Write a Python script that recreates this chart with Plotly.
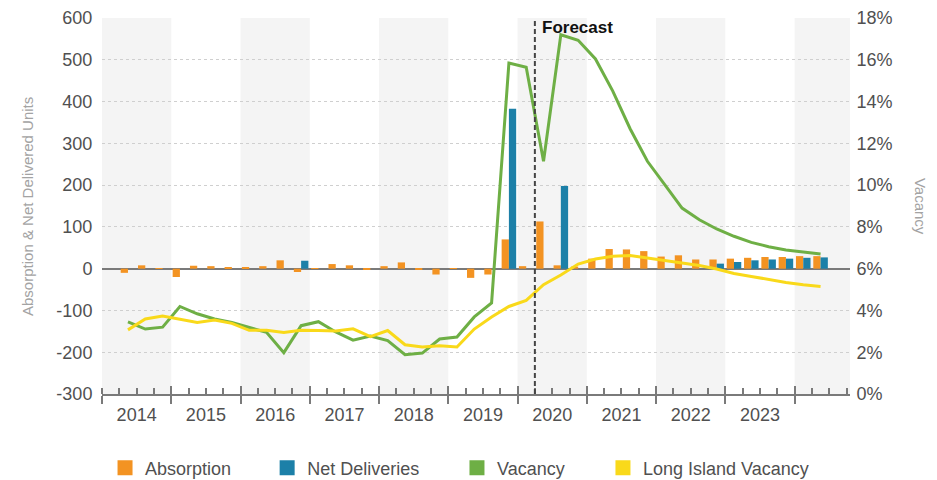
import plotly.graph_objects as go

# ---------------- data ----------------
quarters = [
    "2014 Q2", "2014 Q3", "2014 Q4",
    "2015 Q1", "2015 Q2", "2015 Q3", "2015 Q4",
    "2016 Q1", "2016 Q2", "2016 Q3", "2016 Q4",
    "2017 Q1", "2017 Q2", "2017 Q3", "2017 Q4",
    "2018 Q1", "2018 Q2", "2018 Q3", "2018 Q4",
    "2019 Q1", "2019 Q2", "2019 Q3", "2019 Q4",
    "2020 Q1", "2020 Q2", "2020 Q3", "2020 Q4",
    "2021 Q1", "2021 Q2", "2021 Q3", "2021 Q4",
    "2022 Q1", "2022 Q2", "2022 Q3", "2022 Q4",
    "2023 Q1", "2023 Q2", "2023 Q3", "2023 Q4",
    "2024 Q1", "2024 Q2",
]

absorption = [
    -10, 8, 1,
    -20, 7, 6, 4,
    4, 6, 20, -8,
    1, 11, 8, -2,
    6, 15, -1, -14,
    1, -22, -14, 70,
    6, 113, 8, 5,
    24, 47, 46, 42,
    29, 32, 22, 22,
    24, 26, 28, 28,
    30, 30,
]

net_deliveries = [
    0, 0, 0,
    0, 0, 0, 0,
    0, 0, 0, 19,
    0, 0, 0, 0,
    0, 0, 0, 0,
    0, 0, 0, 383,
    0, 0, 198, 0,
    0, 0, 0, 0,
    0, 0, 0, 12,
    16, 20, 22, 24,
    26, 27,
]

vacancy = [
    3.45, 3.11, 3.20,
    4.19, 3.84, 3.59, 3.42,
    3.18, 2.95, 1.98, 3.27,
    3.46, 2.97, 2.58, 2.78,
    2.56, 1.88, 1.96, 2.63,
    2.73, 3.69, 4.36, 15.84,
    15.64, 11.14, 17.20, 16.93,
    16.04, 14.50, 12.70, 11.14,
    10.02, 8.90, 8.34, 7.90,
    7.55, 7.26, 7.05, 6.89,
    6.80, 6.70,
]

li_vacancy = [
    3.07, 3.59, 3.73,
    3.56, 3.42, 3.54, 3.38,
    3.05, 3.05, 2.95, 3.05,
    3.04, 3.02, 3.12, 2.75,
    3.04, 2.36, 2.25, 2.31,
    2.25, 3.11, 3.69, 4.19,
    4.48, 5.23, 5.70, 6.22,
    6.46, 6.59, 6.63, 6.51,
    6.40, 6.30, 6.15, 5.98,
    5.77, 5.63, 5.47, 5.34,
    5.23, 5.15,
]

year_labels = ["2014", "2015", "2016", "2017", "2018",
               "2019", "2020", "2021", "2022", "2023"]
units_ticks = [600, 500, 400, 300, 200, 100, 0, -100, -200, -300]
units_tick_labels = ["600", "500", "400", "300", "200", "100", "0",
                     "-100", "-200", "-300"]
shaded_years = [2014, 2016, 2018, 2020, 2022, 2024]
forecast_start = "2020 Q2"

series_names = ["Absorption", "Net Deliveries", "Vacancy", "Long Island Vacancy"]

# ---------------- styling ----------------
ORANGE = "#F39322"
BLUE = "#1C80A8"
GREEN = "#6EAF45"
YELLOW = "#F9D91A"
AXIS_GRAY = "#7a7a7a"
TEXT_GRAY = "#505050"
FONT = "Liberation Sans, Arial, sans-serif"
TICK_SIZE = 18

X_RANGE = [2014.0, 2024.8]


def q_center(label):
    y, q = label.split(" Q")
    return int(y) + (int(q) - 0.5) / 4.0


def q_start(label):
    y, q = label.split(" Q")
    return int(y) + (int(q) - 1) / 4.0


xq = [q_center(q) for q in quarters]
label_pos = [int(y) + 0.5 for y in year_labels]

fig = go.Figure()

fig.add_trace(go.Bar(x=xq, y=absorption, name="Absorption", marker_color=ORANGE,
                     marker_line_width=0, width=0.105, offset=-0.105,
                     showlegend=False))
fig.add_trace(go.Bar(x=xq, y=net_deliveries, name="Net Deliveries", marker_color=BLUE,
                     marker_line_width=0, width=0.105, offset=0.0,
                     showlegend=False))
fig.add_trace(go.Scatter(x=xq, y=vacancy, name="Vacancy", yaxis="y2", mode="lines",
                         line=dict(color=GREEN, width=3), showlegend=False))
fig.add_trace(go.Scatter(x=xq, y=li_vacancy, name="Long Island Vacancy", yaxis="y2",
                         mode="lines", line=dict(color=YELLOW, width=3),
                         showlegend=False))

# legend entries (square swatches), each in its own legend box
legend_ids = ["legend", "legend2", "legend3", "legend4"]
legend_cols = [ORANGE, BLUE, GREEN, YELLOW]
legend_axes = ["x2", "x2", "x3", "x3"]
for nm, col, lg, ax in zip(series_names, legend_cols, legend_ids, legend_axes):
    fig.add_trace(go.Scatter(x=[None], y=[None], name=nm, mode="markers",
                             xaxis=ax, yaxis="y",
                             marker=dict(symbol="square", size=15, color=col),
                             legend=lg, showlegend=True, hoverinfo="skip"))

# shaded alternate years
for yr in shaded_years:
    fig.add_shape(type="rect", xref="x", yref="paper",
                  x0=yr, x1=min(yr + 1, X_RANGE[1]), y0=0, y1=1,
                  fillcolor="#f4f4f4", line_width=0, layer="below")

# forecast divider
fx = q_start(forecast_start)
fig.add_shape(type="line", xref="x", yref="paper", x0=fx, x1=fx, y0=0, y1=1,
              line=dict(color="#444444", width=2, dash="5px,3px"), layer="above")
fig.add_annotation(x=fx, xref="x", y=0.975, yref="paper", text="<b>Forecast</b>",
                   showarrow=False, xanchor="left", yanchor="middle", xshift=5,
                   font=dict(size=17, color="#111111", family=FONT))

# axis titles
fig.add_annotation(x=-0.1003, xref="paper", y=0.5, yref="paper",
                   text="Absorption & Net Delivered Units", textangle=-90,
                   showarrow=False, xanchor="center", yanchor="middle",
                   font=dict(size=15, color="#a3a3a3", family=FONT))
fig.add_annotation(x=1.095, xref="paper", y=0.5, yref="paper",
                   text="Vacancy", textangle=90,
                   showarrow=False, xanchor="center", yanchor="middle",
                   font=dict(size=15, color="#a3a3a3", family=FONT))

legend_x = [0.1121, 0.2851, 0.4877, 0.6435]
legend_common = dict(orientation="h", xref="container", yref="container",
                     y=0.025, yanchor="middle", xanchor="left",
                     bgcolor="rgba(0,0,0,0)", itemsizing="trace",
                     font=dict(size=TICK_SIZE, color=TEXT_GRAY, family=FONT))

fig.update_layout(
    width=937, height=480,
    margin=dict(l=102, r=87, t=18, b=86, autoexpand=False),
    plot_bgcolor="white", paper_bgcolor="white",
    font=dict(family=FONT, size=TICK_SIZE, color=TEXT_GRAY),
    barmode="overlay",
    legend=dict(x=legend_x[0], **legend_common),
    legend2=dict(x=legend_x[1], **legend_common),
    legend3=dict(x=legend_x[2], **legend_common),
    legend4=dict(x=legend_x[3], **legend_common),
    xaxis=dict(range=X_RANGE, tickmode="linear", tick0=2014, dtick=1,
               ticks="outside", ticklen=8, tickwidth=2, tickcolor=AXIS_GRAY,
               showticklabels=False, showline=True, linecolor=AXIS_GRAY, linewidth=2,
               showgrid=False, zeroline=False,
               minor=dict(tick0=2014, dtick=0.25, ticks="inside", ticklen=6,
                          tickwidth=1.5, tickcolor=AXIS_GRAY, showgrid=False)),
    xaxis2=dict(overlaying="x", anchor="y", side="bottom", range=X_RANGE,
                tickmode="array", tickvals=label_pos, ticktext=year_labels,
                ticks="outside", ticklen=4, tickcolor="rgba(0,0,0,0)",
                showline=False, showgrid=False, zeroline=False,
                tickfont=dict(size=TICK_SIZE, color=TEXT_GRAY)),
    xaxis3=dict(overlaying="x", anchor="y", side="bottom", range=X_RANGE,
                tickmode="linear", tick0=2014, dtick=1,
                ticks="inside", ticklen=8, tickwidth=2, tickcolor=AXIS_GRAY,
                showticklabels=False, showline=False, showgrid=False, zeroline=False),
    yaxis=dict(range=[-300, 600], tickmode="array", tickvals=units_ticks,
               ticktext=units_tick_labels,
               showgrid=True, gridcolor="#cfcfcf", griddash="dot", gridwidth=1,
               zeroline=True, zerolinecolor=AXIS_GRAY, zerolinewidth=2,
               showline=False, ticks="outside", ticklen=5, tickcolor="rgba(0,0,0,0)",
               tickfont=dict(size=TICK_SIZE, color=TEXT_GRAY)),
    yaxis2=dict(range=[0, 18], tickmode="linear", tick0=0, dtick=2, ticksuffix="%",
                overlaying="y", side="right", showgrid=False, zeroline=False,
                showline=False, ticks="outside", ticklen=2, tickcolor="rgba(0,0,0,0)",
                tickfont=dict(size=TICK_SIZE, color=TEXT_GRAY)),
)

fig.write_html("out.html")
